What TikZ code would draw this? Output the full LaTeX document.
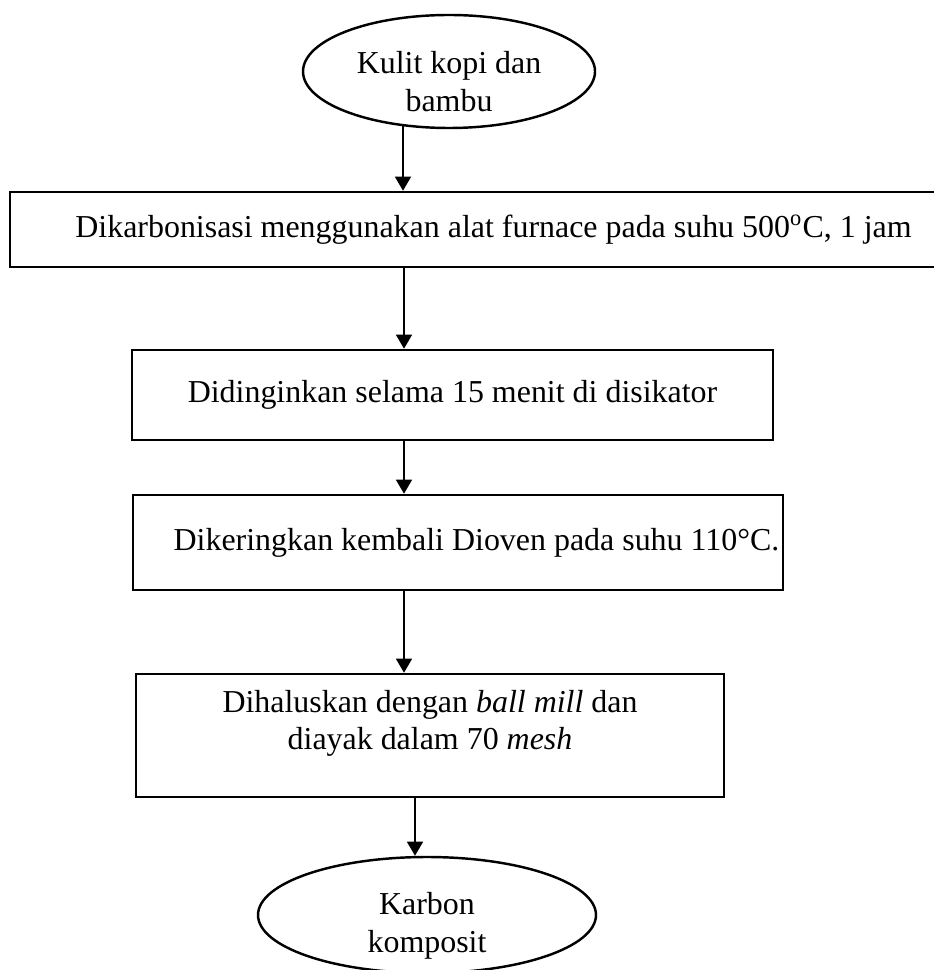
\documentclass[tikz,border=0pt]{standalone}
\usepackage{fontspec}
\setmainfont{Liberation Serif}
\usetikzlibrary{shapes.geometric,arrows.meta}
\begin{document}
\begin{tikzpicture}
\pgfmathsetlengthmacro\px{0.368pt};
\tikzset{x=\px, y=-\px,
  every node/.style = {font=\fontsize{11.75}{13.8}\selectfont, inner sep=0pt},
  ujung/.style = {draw, ellipse, line width=0.9pt},
  proses/.style = {draw, rectangle, line width=0.9pt, align=center},
  panah/.style = {line width=0.9pt, -{Triangle[length=5.2pt,width=5.8pt]}}}
\useasboundingbox (0,0) rectangle (933,970);
\coordinate (sumbu) at (404,0);
\coordinate (sumbubawah) at (415,0);
\node[ujung, minimum width=292*\px, minimum height=113*\px, text height=15.8pt, text depth=0pt] (kulit) at (449,71.5) {\begin{tabular}{@{}c@{}}Kulit kopi dan\\ bambu\end{tabular}};
\node[proses, minimum width=935*\px, minimum height=75*\px] (karbonisasi) at (477.5,229.5) {\hspace*{11.8pt}Dikarbonisasi menggunakan alat furnace pada suhu 500\textsuperscript{o}C, 1 jam};
\node[proses, minimum width=641*\px, minimum height=90*\px] (dingin) at (452.5,395) {Didinginkan selama 15 menit di disikator};
\node[proses, minimum width=650*\px, minimum height=95*\px] (kering) at (458,542.5) {\hspace*{13.6pt}Dikeringkan kembali Dioven pada suhu 110°C.};
\node[proses, minimum width=588*\px, minimum height=123*\px, text height=0pt, text depth=3pt] (halus) at (430,735.5) {\begin{tabular}{@{}c@{}}Dihaluskan dengan \textit{ball mill} dan\\ diayak dalam 70 \textit{mesh}\end{tabular}};
\node[ujung, minimum width=338*\px, minimum height=116*\px, text height=14pt, text depth=0pt] (karbon) at (427,915) {\begin{tabular}{@{}c@{}}Karbon\\ komposit\end{tabular}};
% alur proses
\draw[panah] (kulit.230) -- (kulit.230 |- karbonisasi.north);
\draw[panah] (karbonisasi.south -| sumbu) -- (dingin.north -| sumbu);
\draw[panah] (dingin.south -| sumbu) -- (kering.north -| sumbu);
\draw[panah] (kering.south -| sumbu) -- (halus.north -| sumbu);
\draw[panah] (halus.south -| sumbubawah) -- (karbon.north -| sumbubawah);
\end{tikzpicture}
\end{document}
